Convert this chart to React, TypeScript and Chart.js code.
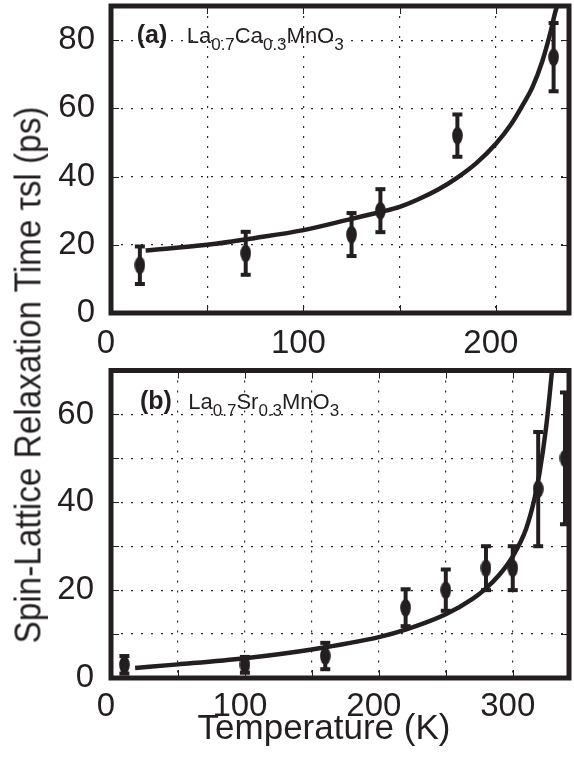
import React, { useEffect, useRef } from 'react';
import { Chart, registerables } from 'chart.js';

Chart.register(...registerables);

const INK = '#231f20';
const FONT = "'Liberation Sans', Arial, Helvetica, sans-serif";

// ---- Panel (a): La0.7Ca0.3MnO3 ----
const tempA = [15, 70, 125, 140, 180, 230];
const tauA = [14, 17.5, 23, 30, 52, 75];
const errA = [5.5, 6.3, 6.3, 6.3, 6.2, 10];
const fitTempA = [18, 50, 75, 100, 125, 140, 150, 160, 170, 180, 190, 200, 208, 214, 219, 224, 228, 231, 233];
const fitTauA = [18.3, 20.0, 22.0, 24.3, 27.6, 29.6, 31.1, 33.4, 36.2, 39.7, 44.0, 49.6, 55.4, 61.0, 66.2, 73.6, 81.5, 88.5, 92];
const xLabelsA = [0, 100, 200];
const yLabelsA = [0, 20, 40, 60, 80];

// ---- Panel (b): La0.7Sr0.3MnO3 ----
const tempB = [10, 100, 160, 220, 250, 280, 300, 319, 339];
const tauB = [3, 3, 5, 16, 20, 25, 25, 43, 50];
const errB = [2, 1.8, 3, 4.2, 4.7, 5, 5, 13, 15];
const fitTempB = [18, 50, 100, 150, 200, 220, 250, 270, 280, 290, 300, 310, 316, 320, 325, 329, 331];
const fitTauB = [2.3, 3.1, 4.5, 6.5, 9.3, 11.0, 14.5, 18.0, 20.4, 23.5, 27.7, 34.0, 40.5, 46.7, 57.3, 69, 76];
const xLabelsB = [0, 100, 200, 300];
const yLabelsB = [0, 20, 40, 60];

function ellipseImage(): HTMLCanvasElement {
  const c = document.createElement('canvas');
  c.width = 11;
  c.height = 18;
  const g = c.getContext('2d')!;
  g.fillStyle = INK;
  g.beginPath();
  g.ellipse(5.5, 9, 5.3, 8.8, 0, 0, Math.PI * 2);
  g.fill();
  return c;
}

type Part = [string, boolean];

interface PanelDef {
  temps: number[];
  taus: number[];
  errs: number[];
  fitT: number[];
  fitY: number[];
  xMax: number;
  yMax: number;
  xStep: number;
  yStep: number;
  xLabels: number[];
  yLabels: number[];
  xAxisHeight: number;
  padTop: number;
  xPad: number;
  yPad: number;
  tag: string;
  parts: Part[];
  tagDx: number;
  formulaDx: number;
  baseDy: number;
}

function zeroPad(s: any) {
  s.paddingTop = 0;
  s.paddingBottom = 0;
  s.paddingLeft = 0;
  s.paddingRight = 0;
}

function makeConfig(p: PanelDef, img: HTMLCanvasElement): any {
  const decor = {
    id: 'panelDecor',
    afterDatasetsDraw(chart: any) {
      const ctx = chart.ctx;
      const xs = chart.scales.x;
      const ys = chart.scales.y;
      ctx.save();
      ctx.strokeStyle = INK;
      ctx.fillStyle = INK;
      ctx.lineWidth = 4;
      p.temps.forEach((t, i) => {
        const x = xs.getPixelForValue(t);
        const y1 = ys.getPixelForValue(p.taus[i] + p.errs[i]);
        const y2 = ys.getPixelForValue(p.taus[i] - p.errs[i]);
        ctx.beginPath();
        ctx.moveTo(x, y1);
        ctx.lineTo(x, y2);
        ctx.stroke();
        ctx.fillRect(x - 5, y1 - 2, 10, 4);
        ctx.fillRect(x - 5, y2 - 2, 10, 4);
      });
      ctx.restore();
    },
    afterDraw(chart: any) {
      const ctx = chart.ctx;
      const a = chart.chartArea;
      const xs = chart.scales.x;
      const ys = chart.scales.y;
      ctx.save();
      ctx.strokeStyle = INK;
      ctx.lineWidth = 1;
      // inward tick marks
      xs.ticks.forEach((tk: any) => {
        if (tk.value <= xs.min || tk.value >= xs.max) return;
        const x = Math.round(xs.getPixelForValue(tk.value)) + 0.5;
        ctx.beginPath();
        ctx.moveTo(x, a.top);
        ctx.lineTo(x, a.top + 8);
        ctx.moveTo(x, a.bottom);
        ctx.lineTo(x, a.bottom - 8);
        ctx.stroke();
      });
      ys.ticks.forEach((tk: any) => {
        if (tk.value <= ys.min || tk.value >= ys.max) return;
        const y = Math.round(ys.getPixelForValue(tk.value)) + 0.5;
        ctx.beginPath();
        ctx.moveTo(a.left, y);
        ctx.lineTo(a.left + 8, y);
        ctx.moveTo(a.right, y);
        ctx.lineTo(a.right - 8, y);
        ctx.stroke();
      });
      // frame
      ctx.lineWidth = 5;
      ctx.strokeRect(a.left, a.top, a.right - a.left, a.bottom - a.top);
      // panel label
      ctx.fillStyle = INK;
      ctx.textBaseline = 'alphabetic';
      ctx.textAlign = 'left';
      const base = a.top + p.baseDy;
      ctx.font = `bold 25px ${FONT}`;
      ctx.fillText(p.tag, a.left + p.tagDx, base);
      let x = a.left + p.formulaDx;
      p.parts.forEach(([txt, sub]) => {
        ctx.font = sub ? `17px ${FONT}` : `22px ${FONT}`;
        ctx.fillText(txt, x, sub ? base + 6.5 : base);
        x += ctx.measureText(txt).width;
      });
      ctx.restore();
    },
  };

  return {
    type: 'scatter',
    data: {
      datasets: [
        {
          data: p.fitT.map((t, i) => ({ x: t, y: p.fitY[i] })),
          showLine: true,
          borderColor: INK,
          borderWidth: 4.5,
          pointRadius: 0,
          cubicInterpolationMode: 'monotone',
        },
        {
          data: p.temps.map((t, i) => ({ x: t, y: p.taus[i] })),
          pointStyle: img,
          pointRadius: 5,
          borderWidth: 0,
          backgroundColor: INK,
        },
      ],
    },
    options: {
      responsive: false,
      animation: false,
      events: [],
      layout: { padding: { top: p.padTop, right: 3, left: 0, bottom: 0 } },
      plugins: { legend: { display: false }, tooltip: { enabled: false }, title: { display: false } },
      scales: {
        x: {
          type: 'linear',
          min: 0,
          max: p.xMax,
          afterFit: (s: any) => {
            s.height = p.xAxisHeight;
            zeroPad(s);
          },
          ticks: {
            stepSize: p.xStep,
            includeBounds: false,
            autoSkip: false,
            maxRotation: 0,
            padding: p.xPad,
            labelOffset: -5,
            color: INK,
            font: { family: FONT, size: 33 },
            callback: (v: number) => (p.xLabels.includes(v) ? String(v) : ''),
          },
          grid: { color: '#2a2a2a', lineWidth: 1.2, drawTicks: false },
          border: { display: false, dash: [2, 8] },
        },
        y: {
          type: 'linear',
          min: 0,
          max: p.yMax,
          afterFit: (s: any) => {
            s.width = 111;
            zeroPad(s);
          },
          ticks: {
            stepSize: p.yStep,
            includeBounds: false,
            autoSkip: false,
            padding: p.yPad,
            color: INK,
            font: { family: FONT, size: 33 },
            callback: (v: number) => (p.yLabels.includes(v) ? String(v) : ''),
          },
          grid: { color: '#2a2a2a', lineWidth: 1.2, drawTicks: false },
          border: { display: false, dash: [2, 8] },
        },
      },
    },
    plugins: [decor],
  };
}

export default function App() {
  const refA = useRef<HTMLCanvasElement>(null);
  const refB = useRef<HTMLCanvasElement>(null);

  useEffect(() => {
    const img = ellipseImage();
    const panelA: PanelDef = {
      temps: tempA, taus: tauA, errs: errA, fitT: fitTempA, fitY: fitTauA,
      xMax: 238, yMax: 90, xStep: 50, yStep: 20, xLabels: xLabelsA, yLabels: yLabelsA,
      xAxisHeight: 52, padTop: 6, xPad: 11, yPad: 16,
      tag: '(a)',
      parts: [['La', false], ['0.7', true], ['Ca', false], ['0.3', true], ['MnO', false], ['3', true]],
      tagDx: 25.7, formulaDx: 75.7, baseDy: 37,
    };
    const panelB: PanelDef = {
      temps: tempB, taus: tauB, errs: errB, fitT: fitTempB, fitY: fitTauB,
      xMax: 342, yMax: 70, xStep: 50, yStep: 10, xLabels: xLabelsB, yLabels: yLabelsB,
      xAxisHeight: 89, padTop: 10.5, xPad: 9, yPad: 17,
      tag: '(b)',
      parts: [['La', false], ['0.7', true], ['Sr', false], ['0.3', true], ['MnO', false], ['3', true]],
      tagDx: 29, formulaDx: 77.3, baseDy: 38.5,
    };
    const a = new Chart(refA.current!, makeConfig(panelA, img));
    const b = new Chart(refB.current!, makeConfig(panelB, img));
    return () => {
      a.destroy();
      b.destroy();
    };
  }, []);

  return (
    <div style={{ position: 'absolute', left: 0, top: 0, width: 574, height: 767, background: '#fff', overflow: 'hidden' }}>
      <canvas ref={refA} width={574} height={365} style={{ position: 'absolute', left: 0, top: 0, display: 'block' }} />
      <canvas ref={refB} width={574} height={407} style={{ position: 'absolute', left: 0, top: 360, display: 'block' }} />
      <div
        style={{
          position: 'absolute',
          left: 28,
          top: 375,
          width: 'max-content',
          transform: 'translate(-50%, -50%) rotate(-90deg) scale(1, 1.1)',
          whiteSpace: 'nowrap',
          fontFamily: FONT,
          fontSize: 33.3,
          lineHeight: 1,
          color: INK,
        }}
      >
        Spin-Lattice Relaxation Time τsl (ps)
      </div>
      <div
        style={{
          position: 'absolute',
          left: 324,
          top: 708.5,
          width: 'max-content',
          transform: 'translateX(-50%)',
          whiteSpace: 'nowrap',
          fontFamily: FONT,
          fontSize: 35,
          lineHeight: 1,
          color: INK,
        }}
      >
        Temperature (K)
      </div>
    </div>
  );
}
